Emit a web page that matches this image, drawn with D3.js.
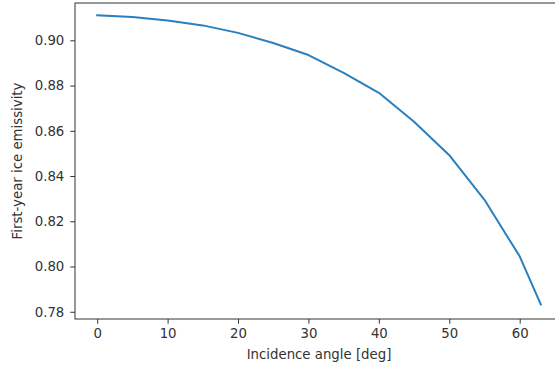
<!DOCTYPE html>
<html>
<head>
<meta charset="utf-8">
<script src="https://cdn.jsdelivr.net/npm/d3@7"></script>
<style>
  body { margin: 0; background: #fff; }
  svg { display: block; }
  text { font-family: "DejaVu Sans", sans-serif; fill: #333; }
</style>
</head>
<body>
<svg id="chart" width="555" height="369"></svg>
<script>
// incidence angle [deg] and first-year ice emissivity
var angles = [0, 5, 10, 15, 20, 25, 30, 35, 40, 45, 50, 55, 60, 63];
var emissivity = [0.9111, 0.9103, 0.9088, 0.9066, 0.9033, 0.8988, 0.8935, 0.8856, 0.8768, 0.8640, 0.8492, 0.8295, 0.8045, 0.7832];
var xTicks = [0, 10, 20, 30, 40, 50, 60];
var yTicks = [0.78, 0.80, 0.82, 0.84, 0.86, 0.88, 0.90];

const mLeft = 75, mRight = 563, mTop = 3, mBottom = 319;

var svg = d3.select("#chart");

var x = d3.scaleLinear().domain([-3.15, 66.15]).range([mLeft, mRight]);
var y = d3.scaleLinear().domain([0.7768, 0.9165]).range([mBottom, mTop]);

// line
var line = d3.line().x((d, i) => x(angles[i])).y(d => y(d));
svg.append("path")
  .datum(emissivity)
  .attr("d", line)
  .attr("fill", "none")
  .attr("stroke", "#2a7fbf")
  .attr("stroke-width", 2)
  .attr("stroke-linejoin", "round")
  .attr("stroke-linecap", "square");

// axes
var xAxis = d3.axisBottom(x).tickValues(xTicks).tickFormat(d3.format("d")).tickSize(4.7).tickPadding(4.5);
var yAxis = d3.axisLeft(y).tickValues(yTicks).tickFormat(d3.format(".2f")).tickSize(4.7).tickPadding(6);

var gx = svg.append("g").attr("transform", `translate(0,${mBottom})`).call(xAxis);
var gy = svg.append("g").attr("transform", `translate(${mLeft},0)`).call(yAxis);

[gx, gy].forEach(g => {
  g.select(".domain").remove();
  g.selectAll(".tick line").attr("stroke", "#333").attr("stroke-width", 1);
  g.selectAll(".tick text").attr("font-size", 13.3).attr("fill", "#333").style("font-family", "DejaVu Sans");
});

// spines (right one falls outside the picture)
svg.append("rect")
  .attr("x", mLeft).attr("y", mTop)
  .attr("width", mRight - mLeft).attr("height", mBottom - mTop)
  .attr("fill", "none").attr("stroke", "#333").attr("stroke-width", 1);

// labels
svg.append("text")
  .attr("x", (mLeft + mRight) / 2).attr("y", 359)
  .attr("text-anchor", "middle").attr("font-size", 13.3)
  .text("Incidence angle [deg]");

svg.append("text")
  .attr("transform", `translate(22,${(mTop + mBottom) / 2}) rotate(-90)`)
  .attr("text-anchor", "middle").attr("font-size", 13.3)
  .text("First-year ice emissivity");
</script>
</body>
</html>
